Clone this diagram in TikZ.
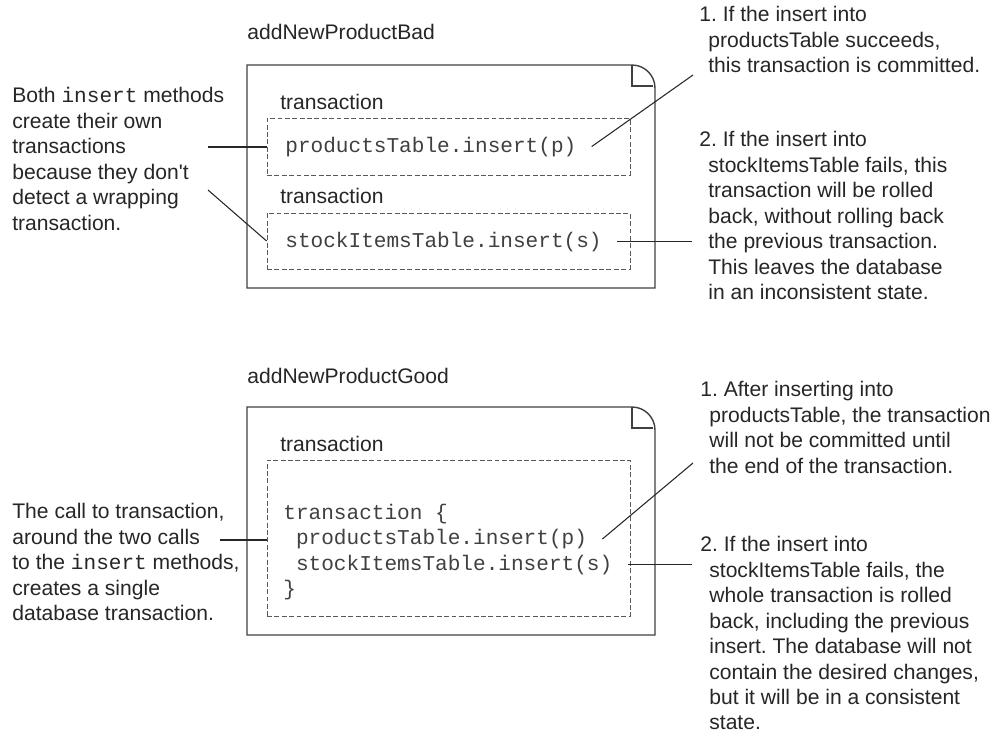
\documentclass[tikz,border=0pt]{standalone}
\usepackage{fontspec}
\setmainfont{Liberation Sans}
\setmonofont{Liberation Mono}
\usepackage{xcolor}
\frenchspacing
\newcommand{\txtsize}{\fontsize{12}{14.5}\selectfont}
\newcommand{\numgap}{\hspace*{0.18cm}}
\tikzset{
  frame/.style={draw=black!75, line width=0.8pt},
  txbox/.style={draw=black!65, line width=0.5pt, dash pattern=on 2.8pt off 1.4pt, minimum width=7.26cm, inner sep=0pt},
  txlabel/.style={anchor=base west, inner sep=0pt, text=black!85, font=\txtsize},
  code/.style={anchor=base west, inner sep=0pt, text=black!75, font=\txtsize\ttfamily},
  note/.style={anchor=north west, inner sep=0pt, align=left, text=black!85, font=\txtsize},
  link/.style={draw=black!85, line width=0.6pt}
}
\begin{document}
\begin{tikzpicture}[x=0.02cm, y=-0.02cm]
  \useasboundingbox (0,0) rectangle (1001,738);

  % bad version
  \node[txlabel] (badname) at (247,39) {addNewProductBad};
  \draw[frame] (247,65) -- (632,65) .. controls (644.7,65) and (655,75.4) .. (655,88) -- (655,288) -- (247,288) -- cycle;
  \draw[frame] (632,65) -- (632,86) -- (653,86);
  \node[txlabel] (lab1) at (280,109) {transaction};
  \node[txbox, minimum height=1.14cm] (tx1) at (448.5,146.5) {};
  \node[code] (p1) at (285,152) {productsTable.insert(p)};
  \node[txlabel] (lab2) at (280,203) {transaction};
  \node[txbox, minimum height=1.12cm] (tx2) at (448.5,241) {};
  \node[code] (s1) at (285,247) {stockItemsTable.insert(s)};

  \node[note] (whybad) at (12,87) {Both \texttt{insert} methods\\create their own\\transactions\\because they don\textquotesingle t\\detect a wrapping\\transaction.};
  \node[note] (badone) at (699,6) {1. If the insert into\\\numgap productsTable succeeds,\\\numgap this transaction is committed.};
  \node[note] (badtwo) at (699,131) {2. If the insert into\\\numgap stockItemsTable fails, this\\\numgap transaction will be rolled\\\numgap back, without rolling back\\\numgap the previous transaction.\\\numgap This leaves the database\\\numgap in an inconsistent state.};

  \coordinate (lt1) at (208,147);
  \coordinate (lt2) at (208,190);
  \coordinate (rt1) at (693,75);
  \coordinate (rt2) at (692,242);
  \draw[link] (lt1) -- (lt1 -| tx1.west);
  \draw[link] (lt2) -- (tx2.west);
  \draw[link] ([xshift=0.3cm]p1.east) -- (rt1);
  \draw[link] ([xshift=0.3cm]s1.east) -- (s1.east -| rt2);

  % good version
  \node[txlabel] (goodname) at (247,383) {addNewProductGood};
  \draw[frame] (247,407) -- (632,407) .. controls (644.7,407) and (655,417.4) .. (655,430) -- (655,635) -- (247,635) -- cycle;
  \draw[frame] (632,407) -- (632,428) -- (653,428);
  \node[txlabel] (lab3) at (280,451) {transaction};
  \node[txbox, minimum height=3.12cm] (tx3) at (448.5,538) {};
  \node[code] (t0) at (283,519) {transaction \{};
  \node[code] (p2) at (283,544.5) {\hphantom{x}productsTable.insert(p)};
  \node[code] (s2) at (283,570) {\hphantom{x}stockItemsTable.insert(s)};
  \node[code] (t3) at (283,595.5) {\}};

  \node[note] (whygood) at (12,503) {The call to transaction,\\around the two calls\\to the \texttt{insert} methods,\\creates a single\\database transaction.};
  \node[note] (goodone) at (700,381) {1. After inserting into\\\numgap productsTable, the transaction\\\numgap will not be committed until\\\numgap the end of the transaction.};
  \node[note] (goodtwo) at (700,536) {2. If the insert into\\\numgap stockItemsTable fails, the\\\numgap whole transaction is rolled\\\numgap back, including the previous\\\numgap insert. The database will not\\\numgap contain the desired changes,\\\numgap but it will be in a consistent\\\numgap state.};

  \coordinate (lb1) at (220,540);
  \coordinate (rb1) at (693,463);
  \coordinate (rb2) at (692,565);
  \draw[link] (lb1) -- (lb1 -| tx3.west);
  \draw[link] ([xshift=0.3cm]p2.east) -- (rb1);
  \draw[link] ([xshift=0.3cm]s2.east) -- (s2.east -| rb2);
\end{tikzpicture}
\end{document}
